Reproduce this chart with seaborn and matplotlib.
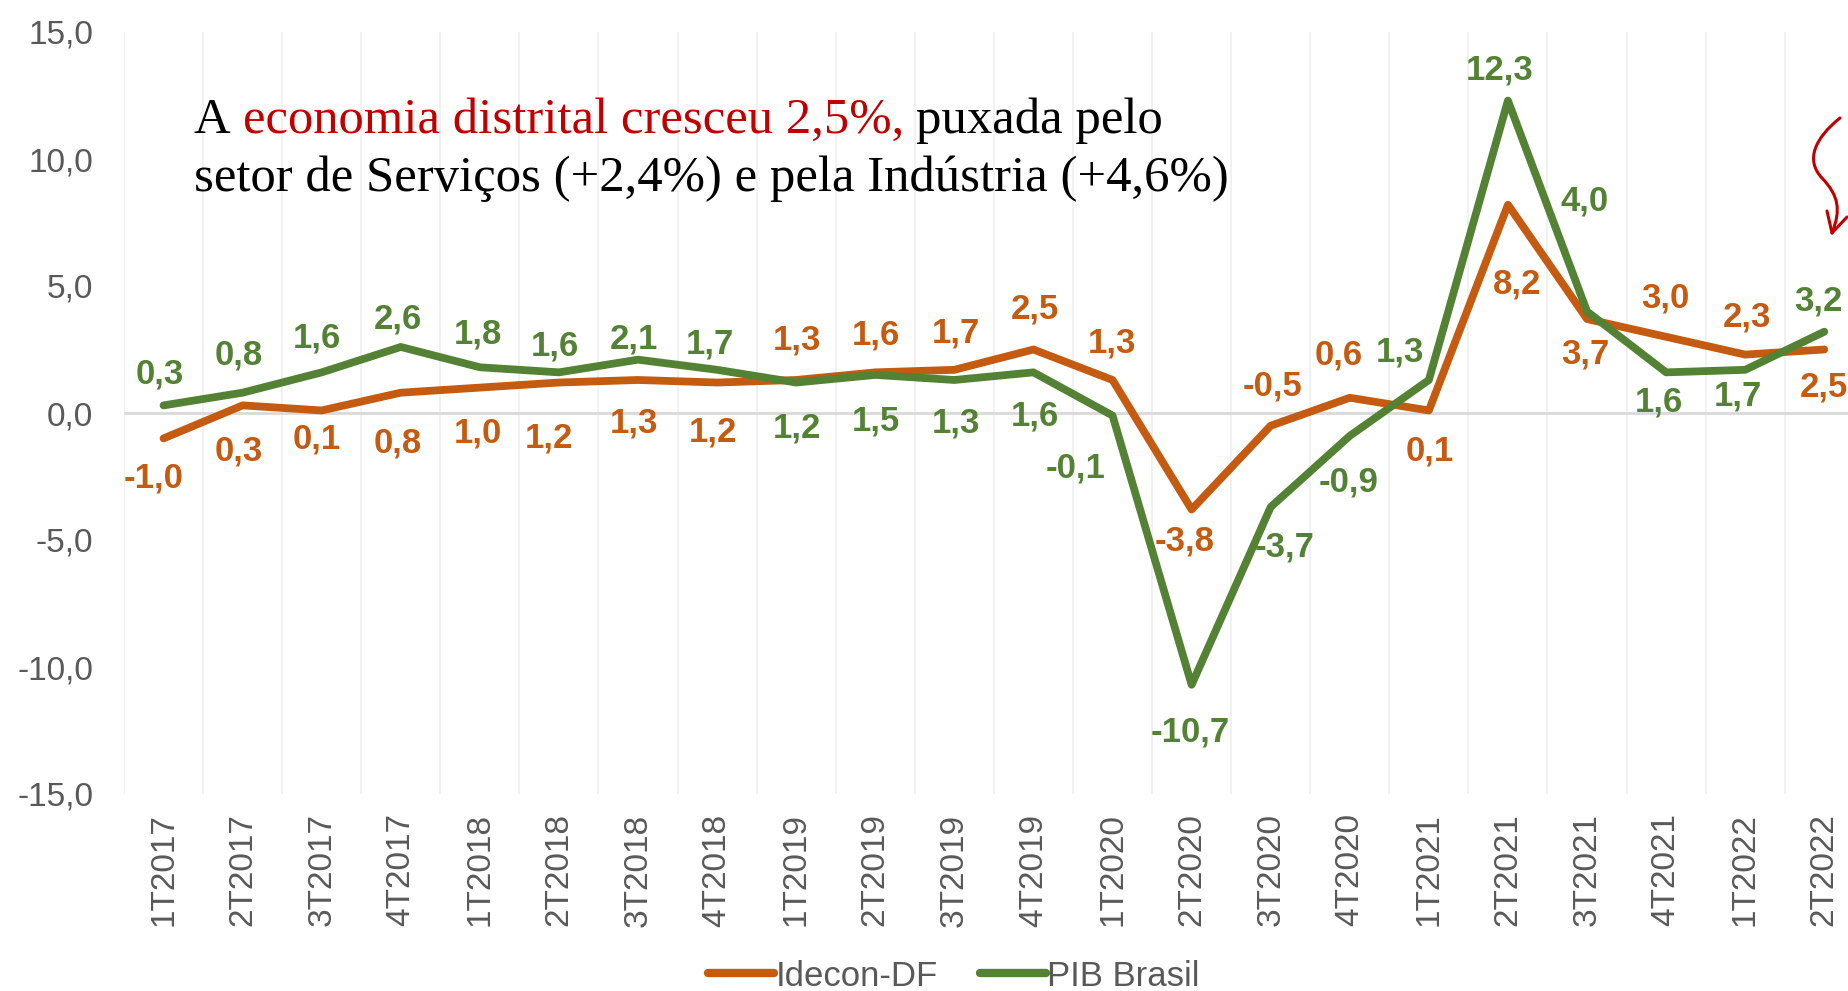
import matplotlib
matplotlib.use("Agg")
import matplotlib.pyplot as plt
import matplotlib.ticker as ticker
from matplotlib import font_manager
from matplotlib.path import Path
from matplotlib.patches import PathPatch
import pandas as pd
import seaborn as sns

TRIMESTRES = ["1T2017", "2T2017", "3T2017", "4T2017", "1T2018", "2T2018", "3T2018", "4T2018",
              "1T2019", "2T2019", "3T2019", "4T2019", "1T2020", "2T2020", "3T2020", "4T2020",
              "1T2021", "2T2021", "3T2021", "4T2021", "1T2022", "2T2022"]
IDECON = [-1.0, 0.3, 0.1, 0.8, 1.0, 1.2, 1.3, 1.2, 1.3, 1.6, 1.7, 2.5,
          1.3, -3.8, -0.5, 0.6, 0.1, 8.2, 3.7, 3.0, 2.3, 2.5]
PIB = [0.3, 0.8, 1.6, 2.6, 1.8, 1.6, 2.1, 1.7, 1.2, 1.5, 1.3, 1.6,
       -0.1, -10.7, -3.7, -0.9, 1.3, 12.3, 4.0, 1.6, 1.7, 3.2]
SERIES = ["Idecon-DF", "PIB Brasil"]

# posição dos rótulos em pixels (dx, dy para baixo)
OFF_IDECON = [(-10, 40), (-4, 46), (-5, 29), (-3, 50), (-2, 45), (-10, 55), (-4, 43), (-4, 49),
              (1, -40), (1, -37), (2, -37), (1, -40), (-1, -37), (-7, 31), (2, -40), (-11, -43),
              (1, 41), (9, 79), (-2, 35), (-1, -39), (2, -38), (0, 37)]
OFF_PIB = [(-4, -31), (-4, -38), (-5, -34), (-3, -28), (-2, -33), (-4, -26), (-4, -21), (-7, -26),
           (1, 45), (1, 46), (2, 43), (1, 44), (-37, 52), (-1, 47), (14, 40), (-1, 46),
           (-29, -28), (-8, -31), (-2, -110), (-7, 30), (-7, 26), (-6, -31)]

LARANJA = "#C55A11"
VERDE = "#548235"
CINZA = "#595959"
VERMELHO = "#C00000"

sns.set_theme(style="white")
plt.rcParams["font.family"] = ["Liberation Sans", "DejaVu Sans"]


def tem_fonte(nome):
    try:
        font_manager.findfont(nome, fallback_to_default=False)
        return True
    except Exception:
        return False


if tem_fonte("Liberation Sans Narrow"):
    fonte_x, tam_x = "Liberation Sans Narrow", 29.5
else:
    fonte_x, tam_x = "Liberation Sans", 24

df = pd.DataFrame({
    "trimestre": TRIMESTRES * 2,
    "valor": IDECON + PIB,
    "serie": [SERIES[0]] * len(IDECON) + [SERIES[1]] * len(PIB),
})

W, H = 1848, 991
fig = plt.figure(figsize=(W / 100, H / 100), dpi=100)
ax = fig.add_axes([124 / W, 1 - 794 / H, (W - 124) / W, (794 - 32) / H])

ax.axhline(0, color="#D9D9D9", lw=2, zorder=1)
sns.lineplot(data=df, x="trimestre", y="valor", hue="serie", palette=[LARANJA, VERDE],
             sort=False, lw=5.6, ax=ax, zorder=3)

for serie, valores, offs, cor in [(SERIES[0], IDECON, OFF_IDECON, LARANJA),
                                   (SERIES[1], PIB, OFF_PIB, VERDE)]:
    for i, v in enumerate(valores):
        dx, dy = offs[i]
        ax.annotate(f"{v:.1f}".replace(".", ","), xy=(i, v), xytext=(dx, -dy),
                    textcoords="offset pixels", ha="center", va="center",
                    fontsize=25, fontweight="bold", color=cor, zorder=4)

ax.set_xlim(-0.5, 21.3)
ax.set_ylim(-15, 15)
ax.yaxis.set_major_locator(ticker.MultipleLocator(5))
ax.yaxis.set_major_formatter(ticker.FuncFormatter(lambda v, p: f"{v:.1f}".replace(".", ",")))
ax.xaxis.set_minor_locator(ticker.FixedLocator([i - 0.5 for i in range(len(TRIMESTRES))]))
ax.grid(False)
ax.grid(True, which="minor", axis="x", color="#EFEFEF", lw=1.2, zorder=0)
ax.tick_params(axis="y", length=0, pad=22, labelsize=24, labelcolor=CINZA)
ax.tick_params(axis="x", which="both", length=0, pad=14, labelcolor=CINZA)
for lab in ax.get_xticklabels():
    lab.set_rotation(90)
    lab.set_fontfamily(fonte_x)
    lab.set_fontsize(tam_x)
ax.set_xlabel("")
ax.set_ylabel("")
for s in ax.spines.values():
    s.set_visible(False)

handles, labels = ax.get_legend_handles_labels()
ax.get_legend().remove()
leg = fig.legend(handles, labels, loc="center", bbox_to_anchor=(954 / W, 1 - 976 / H),
                 ncol=2, frameon=False, fontsize=25, handlelength=1.9, handletextpad=0.05,
                 columnspacing=1.2, borderpad=0)
for t in leg.get_texts():
    t.set_color(CINZA)
for h in leg.get_lines():
    h.set_linewidth(6)
    h.set_solid_capstyle("round")

# texto de destaque
serif = ["Liberation Serif", "DejaVu Serif"]
tam = 36.5
t1 = fig.text(194 / W, 1 - 133 / H, "A", fontsize=tam, family=serif, color="black", va="baseline")
espaco = 12
t2 = ax.annotate("economia distrital cresceu 2,5%,", xy=(1, 0), xycoords=t1,
                 xytext=(espaco, 0), textcoords="offset pixels", va="bottom", ha="left",
                 fontsize=tam, family=serif, color=VERMELHO, annotation_clip=False)
ax.annotate("puxada pelo", xy=(1, 0), xycoords=t2, xytext=(espaco, 0), textcoords="offset pixels",
            va="bottom", ha="left", fontsize=tam, family=serif, color="black", annotation_clip=False)
fig.text(194 / W, 1 - 191 / H, "setor de Serviços (+2,4%) e pela Indústria (+4,6%)", fontsize=tam,
         family=serif, color="black", va="baseline")

# seta desenhada à mão
pts = [(1840, 118), (1815, 138), (1805, 160), (1822, 178),
       (1839, 196), (1841, 210), (1832, 233)]
cod = [Path.MOVETO, Path.CURVE4, Path.CURVE4, Path.CURVE4, Path.CURVE4, Path.CURVE4, Path.CURVE4]
seta = Path([(x / W, 1 - y / H) for x, y in pts], cod)
fig.add_artist(PathPatch(seta, transform=fig.transFigure, fill=False, edgecolor=VERMELHO,
                         lw=2.2, capstyle="round"))
ponta = Path([(x / W, 1 - y / H) for x, y in [(1827, 211), (1832, 233), (1847, 217)]])
fig.add_artist(PathPatch(ponta, transform=fig.transFigure, fill=False, edgecolor=VERMELHO,
                         lw=2.2, capstyle="round", joinstyle="round"))

fig.savefig("out.png", dpi=100)
